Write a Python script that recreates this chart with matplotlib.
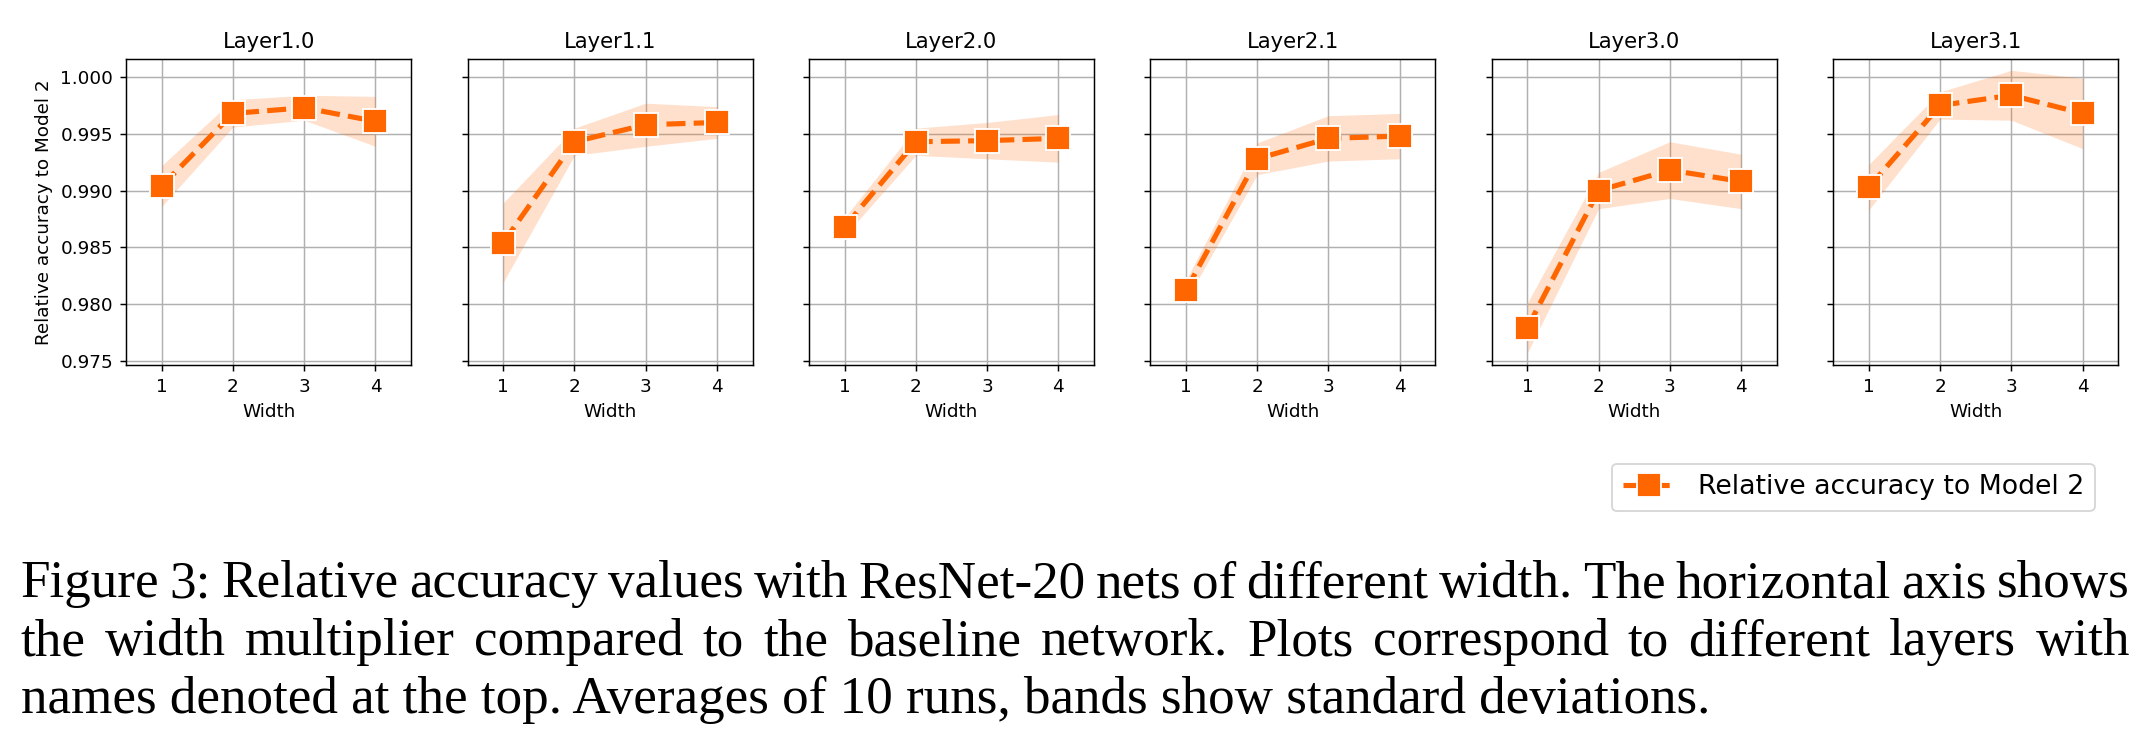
import matplotlib
matplotlib.use("Agg")
import matplotlib.pyplot as plt

W, H = 2152, 755
DPI = 132

orange = "#ff6600"

widths = [1, 2, 3, 4]
layer_names = ["Layer1.0", "Layer1.1", "Layer2.0", "Layer2.1", "Layer3.0", "Layer3.1"]

# mean relative accuracy and std over 10 runs
mean_layer1_0 = [0.9904, 0.9968, 0.9973, 0.9961]
std_layer1_0 = [0.0018, 0.0012, 0.0011, 0.0022]
mean_layer1_1 = [0.9854, 0.9943, 0.9958, 0.9960]
std_layer1_1 = [0.0035, 0.0012, 0.0019, 0.0014]
mean_layer2_0 = [0.9868, 0.9943, 0.9944, 0.9946]
std_layer2_0 = [0.0008, 0.0012, 0.0016, 0.0021]
mean_layer2_1 = [0.9812, 0.9928, 0.9946, 0.9948]
std_layer2_1 = [0.0009, 0.0014, 0.0020, 0.0020]
mean_layer3_0 = [0.9779, 0.9900, 0.9918, 0.9908]
std_layer3_0 = [0.0022, 0.0016, 0.0025, 0.0024]
mean_layer3_1 = [0.9903, 0.9975, 0.9984, 0.9968]
std_layer3_1 = [0.0020, 0.0012, 0.0022, 0.0031]

means = [mean_layer1_0, mean_layer1_1, mean_layer2_0, mean_layer2_1, mean_layer3_0, mean_layer3_1]
stds = [std_layer1_0, std_layer1_1, std_layer2_0, std_layer2_1, std_layer3_0, std_layer3_1]

yticks = [0.975, 0.980, 0.985, 0.990, 0.995, 1.000]

caption_lines = [
    "Figure 3: Relative accuracy values with ResNet-20 nets of different width. The horizontal axis shows",
    "the width multiplier compared to the baseline network.  Plots correspond to different layers with",
    "names denoted at the top. Averages of 10 runs, bands show standard deviations.",
]

fig, axes = plt.subplots(1, 6, sharey=True, figsize=(W / DPI, H / DPI), dpi=DPI)
fig.subplots_adjust(left=0.0586, right=0.9843, top=0.9219, bottom=0.5166, wspace=0.198)

for ax, name, m, s in zip(axes, layer_names, means, stds):
    lo = [a - b for a, b in zip(m, s)]
    hi = [a + b for a, b in zip(m, s)]
    ax.fill_between(widths, lo, hi, color=orange, alpha=0.2, linewidth=0)
    line, = ax.plot(widths, m, "--", color=orange, lw=2.8, marker="s", markersize=13,
                    markeredgecolor="white", markeredgewidth=1,
                    label="Relative accuracy to Model 2")
    ax.set_title(name, fontsize=11.5)
    ax.set_xlabel("Width", fontsize=10)
    ax.set_xticks(widths)
    ax.set_xlim(0.5, 4.5)
    ax.grid(True)
    ax.set_axisbelow(True)
    ax.tick_params(labelsize=10)

axes[0].set_ylim(0.97462, 1.0016)
axes[0].set_yticks(yticks)
axes[0].set_ylabel("Relative accuracy to Model 2", fontsize=10)

fig.legend(handles=[line], loc="center", bbox_to_anchor=(0.8612, 0.3546), fontsize=14.6)

# caption, justified like the paper text
fig.canvas.draw()
renderer = fig.canvas.get_renderer()
x0, x1 = 20.7, 2130.0
baselines = [597.3, 655.0, 713.3]
cap_font = dict(fontsize=29, family="Liberation Serif", va="baseline", ha="left")

for i, (txt, yb) in enumerate(zip(caption_lines, baselines)):
    y = 1 - yb / H
    if i == len(caption_lines) - 1:
        fig.text(x0 / W, y, txt, **cap_font)
        continue
    words = txt.split()
    texts = [fig.text(0, y, w, **cap_font) for w in words]
    ws = [t.get_window_extent(renderer).width for t in texts]
    gap = (x1 - x0 - sum(ws)) / (len(words) - 1)
    x = x0
    for t, w in zip(texts, ws):
        t.set_x(x / W)
        x += w + gap

fig.savefig("out.png", dpi=DPI)
